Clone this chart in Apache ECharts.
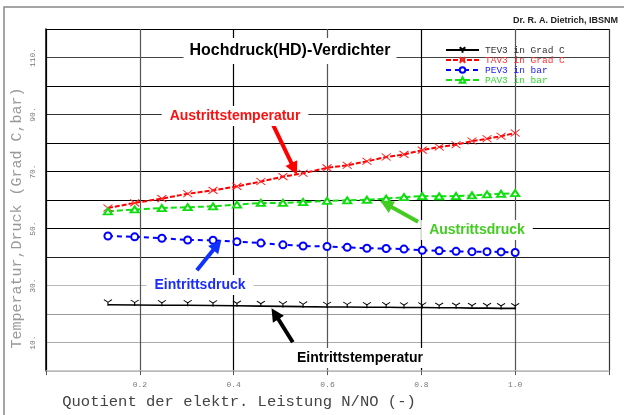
<!DOCTYPE html>
<html><head><meta charset="utf-8">
<script src="https://cdn.jsdelivr.net/npm/echarts@6/dist/echarts.min.js"></script>
<style>html,body{margin:0;padding:0;background:#fff}#c{width:624px;height:415px}</style>
</head><body><div id="c"></div>
<script>
const xValues = [0.132, 0.189, 0.247, 0.302, 0.356, 0.407, 0.458, 0.505, 0.548, 0.599, 0.642, 0.684, 0.725, 0.763, 0.802, 0.838, 0.874, 0.908, 0.940, 0.970, 1.0];
const tev3 = [23.3, 23.2, 23.1, 23.1, 23.0, 22.9, 22.8, 22.7, 22.6, 22.5, 22.5, 22.4, 22.4, 22.3, 22.3, 22.2, 22.2, 22.1, 22.1, 22.0, 22.0];
const tav3 = [57.2, 59.0, 60.5, 62.2, 63.4, 64.8, 66.5, 68.2, 69.4, 71.3, 72.2, 73.6, 75.1, 76.0, 77.5, 78.6, 79.4, 80.7, 81.5, 82.4, 83.5];
const pev3 = [47.4, 47.1, 46.6, 46.0, 45.9, 45.4, 44.9, 44.3, 43.9, 43.7, 43.4, 43.1, 43.0, 42.8, 42.4, 42.2, 42.0, 41.9, 41.9, 41.8, 41.6];
const pav3 = [56.0, 56.7, 57.2, 57.5, 57.8, 58.4, 59.0, 59.0, 59.3, 59.7, 59.9, 60.1, 60.5, 61.0, 61.4, 61.3, 61.4, 61.6, 62.0, 62.2, 62.4];
const seriesNames = ['TEV3 in Grad C', 'TAV3 in Grad C', 'PEV3 in bar', 'PAV3 in bar'];
const xTickValues = [0.2, 0.4, 0.6, 0.8, 1.0];
const xTickLabels = ['0.2', '0.4', '0.6', '0.8', '1.0'];
const yTickValues = [10, 30, 50, 70, 90, 110];
const yTickLabels = ['10.', '30.', '50.', '70.', '90.', '110.'];
const annotations = ['Austrittstemperatur', 'Austrittsdruck', 'Eintrittsdruck', 'Eintrittstemperatur'];
// arrow tail / head-centre in data coordinates
const arrowRed = [[0.482, 87.1], [0.529, 70.9]];
const arrowGreen = [[0.793, 52.4], [0.725, 58.6]];
const arrowBlue = [[0.3216, 35.4], [0.365, 44.2]];
const arrowBlack = [[0.526, 10.1], [0.488, 20.1]];

const pair = arr => arr.map((v, i) => [xValues[i], v]);
const mono = '"Liberation Mono", "DejaVu Sans Mono", monospace';
const sans = '"Liberation Sans", Arial, sans-serif';

function arrow(pts, color) {
  return {
    silent: true, animation: false,
    symbol: ['none', 'triangle'], symbolSize: 13,
    label: { show: false },
    lineStyle: { color: color, width: 4, type: 'solid' },
    itemStyle: { color: color },
    emphasis: { disabled: true },
    data: [[{ coord: pts[0] }, { coord: pts[1] }]]
  };
}

const chart = echarts.init(document.getElementById('c'), null, { renderer: 'canvas' });
chart.setOption({
  animation: false,
  backgroundColor: '#fff',
  grid: { left: 46, top: 29, right: 15, bottom: 40, containLabel: false },
  xAxis: {
    type: 'value', min: 0, max: 1.2, interval: 0.2,
    name: 'Quotient der elektr. Leistung N/NO (-)',
    nameLocation: 'middle', nameGap: 19,
    nameTextStyle: { fontFamily: mono, fontSize: 15.5, color: '#444', padding: [0, 177, 0, 0] },
    axisLine: { show: true, lineStyle: { color: '#bbb', width: 1.5 } },
    axisTick: { show: true, length: 4, lineStyle: { color: '#555' } },
    axisLabel: {
      margin: 10, fontFamily: mono, fontSize: 8, color: '#777',
      formatter: v => { const i = xTickValues.findIndex(t => Math.abs(t - v) < 1e-6); return i >= 0 ? xTickLabels[i] : ''; }
    },
    splitLine: { show: true, lineStyle: { width: 1.2, color: ['#000', '#555', '#000', '#555', '#000', '#555', '#333'] } }
  },
  yAxis: {
    type: 'value', min: 0, max: 120, interval: 10,
    name: 'Temperatur,Druck (Grad C,bar)',
    nameLocation: 'middle', nameGap: 21, nameMoveOverlap: false,
    nameTextStyle: { fontFamily: mono, fontSize: 15, color: '#999', padding: [0, 36, 0, 0] },
    axisLine: { show: true, lineStyle: { color: '#000', width: 1.5 } },
    axisTick: { show: false },
    axisLabel: {
      rotate: 90, margin: 9, fontFamily: mono, fontSize: 8, color: '#777',
      formatter: v => { const i = yTickValues.indexOf(v); return i >= 0 ? yTickLabels[i] : ''; }
    },
    splitLine: { show: true, lineStyle: { width: 1.2, color: ['#bbb', '#aaa', '#999', '#bbb', '#222', '#000', '#000', '#000', '#000', '#333', '#000', '#444', '#000'] } }
  },
  legend: {
    orient: 'vertical', left: 440, top: 40,
    itemWidth: 33, itemHeight: 7, itemGap: 0,
    textStyle: { fontFamily: mono, fontSize: 9.5, lineHeight: 9, padding: [0, 0, 0, 1] },
    data: [
      { name: seriesNames[0], textStyle: { color: '#333' } },
      { name: seriesNames[1], textStyle: { color: '#ff3030' } },
      { name: seriesNames[2], textStyle: { color: '#2020ff' } },
      { name: seriesNames[3], textStyle: { color: '#30dd30' } }
    ]
  },
  series: [
    {
      name: seriesNames[0], type: 'line', data: pair(tev3), z: 3,
      symbol: 'path://M0,0L4,3L8,0M4,3L4,7', symbolSize: [8, 6], symbolOffset: [0, -2],
      itemStyle: { color: 'rgba(0,0,0,0)', borderColor: '#000', borderWidth: 1 },
      lineStyle: { color: '#000', width: 1.6 },
      markLine: arrow(arrowBlack, '#000')
    },
    {
      name: seriesNames[1], type: 'line', data: pair(tav3), z: 3,
      symbol: 'path://M0,0L8,6M0,6L8,0', symbolSize: [9, 7],
      itemStyle: { color: 'rgba(0,0,0,0)', borderColor: '#ff2020', borderWidth: 1 },
      lineStyle: { color: '#ff0000', width: 2, type: [5, 2] },
      markLine: arrow(arrowRed, '#ff0000')
    },
    {
      name: seriesNames[2], type: 'line', data: pair(pev3), z: 3,
      symbol: 'emptyCircle', symbolSize: 7,
      itemStyle: { color: '#0000ff', borderColor: '#0000ff', borderWidth: 1.2 },
      lineStyle: { color: '#0000ff', width: 2, type: [5, 4] },
      markLine: arrow(arrowBlue, '#1030ff')
    },
    {
      name: seriesNames[3], type: 'line', data: pair(pav3), z: 3,
      symbol: 'emptyTriangle', symbolSize: [8, 6],
      itemStyle: { color: '#10dd10', borderColor: '#10dd10', borderWidth: 1 },
      lineStyle: { color: '#10e010', width: 2, type: [6, 3] },
      markLine: arrow(arrowGreen, '#44cc22')
    }
  ],
  graphic: [
    { type: 'rect', silent: true, z: -10, shape: { x: 4, y: 7, width: 700, height: 500 }, style: { fill: 'none', stroke: '#888', lineWidth: 1.5 } },
    { type: 'text', z: 100, x: 290, y: 51, style: { text: 'Hochdruck(HD)-Verdichter', font: 'bold 16px ' + sans, fill: '#000', align: 'center', verticalAlign: 'middle', backgroundColor: '#fff', padding: [5, 6] } },
    { type: 'text', z: 100, x: 618, y: 21, style: { text: 'Dr. R. A. Dietrich, IBSNM', font: 'bold 9px ' + sans, fill: '#222', align: 'right', verticalAlign: 'middle' } },
    { type: 'text', z: 100, x: 235, y: 116, style: { text: annotations[0], font: 'bold 14px ' + sans, fill: '#ff1010', align: 'center', verticalAlign: 'middle', backgroundColor: '#fff', padding: [3, 8] } },
    { type: 'text', z: 100, x: 477, y: 230, style: { text: annotations[1], font: 'bold 14px ' + sans, fill: '#44cc22', align: 'center', verticalAlign: 'middle', backgroundColor: '#fff', padding: [3, 8] } },
    { type: 'text', z: 100, x: 200, y: 285, style: { text: annotations[2], font: 'bold 14px ' + sans, fill: '#1a2cff', align: 'center', verticalAlign: 'middle', backgroundColor: '#fff', padding: [3, 8] } },
    { type: 'text', z: 100, x: 360, y: 358, style: { text: annotations[3], font: 'bold 14px ' + sans, fill: '#000', align: 'center', verticalAlign: 'middle', backgroundColor: '#fff', padding: [3, 8] } }
  ]
});
</script></body></html>
